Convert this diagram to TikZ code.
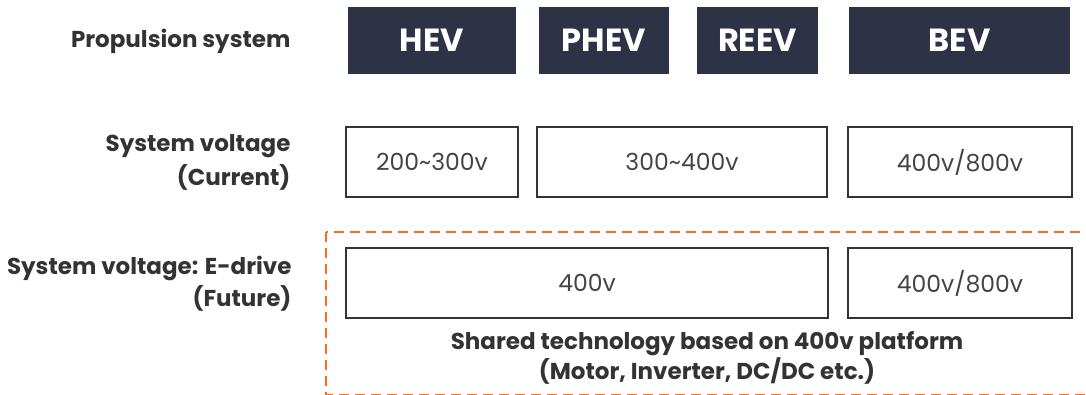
\documentclass[tikz,border=0pt]{standalone}
\usepackage{fontspec}
\setmainfont{Poppins}
\usepackage{xcolor}
\usetikzlibrary{positioning}

\definecolor{navy}{HTML}{2E3246}
\definecolor{ink}{HTML}{333333}
\definecolor{thinink}{HTML}{444444}
\definecolor{dashorange}{HTML}{FF6A1F}

\begin{document}
\begin{tikzpicture}[x=1pt,y=-1pt,
    head/.style={fill=navy, text=white, inner sep=0pt, minimum height=67pt,
      font=\fontsize{32}{36}\selectfont\bfseries},
    volt/.style={draw=ink, line width=1.6pt, inner sep=0pt, minimum height=70pt,
      text=thinink, font=\fontsize{23.5}{26}\selectfont},
    rowlabel/.style={anchor=east, align=right, text=ink,
      font=\fontsize{23}{34}\selectfont\bfseries}]
    \useasboundingbox (0,0) rectangle (1086,394);

    % propulsion row
    \node[rowlabel] (lprop) at (294,41) {Propulsion system};
    \node[head, minimum width=168pt] (hev)  at (432,40.5)   {HEV};
    \node[head, minimum width=130pt] (phev) at (604,40.5)   {PHEV};
    \node[head, minimum width=121pt] (reev) at (757.5,40.5) {REEV};
    \node[head, minimum width=221pt] (bev)  at (959.5,40.5) {BEV};

    % current voltages
    \node[rowlabel] (lcur) at (294,162.5) {System voltage\\(Current)};
    \node[volt, minimum width=172pt] (vhev) at (432,162) {200\textasciitilde300v};
    \node[volt, minimum width=290pt] (vmid) at (682,162) {300\textasciitilde400v};
    \node[volt, minimum width=224pt] (vbev) at (960,162) {400v/800v};

    % future e-drive
    \draw[dashorange, line width=2.4pt, dash pattern=on 10pt off 6pt]
        (326,232) rectangle (1092,395.2);
    \node[rowlabel, font=\fontsize{23}{32}\selectfont\bfseries] (lfut) at (295,284)
        {System voltage: E-drive\\(Future)};
    \node[volt, minimum width=482pt] (fmid) at (587,283) {400v};
    \node[volt, minimum width=224pt] (fbev) at (960,283) {400v/800v};
    \node[rowlabel, anchor=center, align=center, font=\fontsize{23}{30}\selectfont\bfseries]
        (shared) at (707,358)
        {Shared technology based on 400v platform\\(Motor, Inverter, DC/DC etc.)};
\end{tikzpicture}
\end{document}
